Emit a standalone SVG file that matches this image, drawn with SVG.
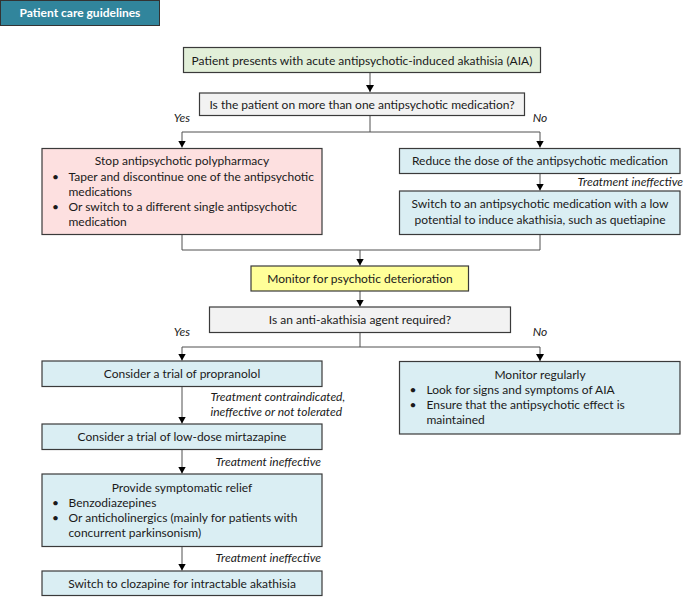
<svg xmlns="http://www.w3.org/2000/svg" width="685" height="597" viewBox="0 0 685 597">
<style>
text{font-family:Lato,"Open Sans","Liberation Sans",sans-serif;font-size:12px;fill:#1a1a1a}
.c{text-anchor:middle}
.i{font-style:italic}
.r{text-anchor:end}
.box{stroke:#3a3a3a;stroke-width:1.2}
.g{fill:#e2efd9}.q{fill:#f2f2f2}.p{fill:#fde0e0}.b{fill:#daeef3}.y{fill:#ffff99}
.ln{fill:none;stroke:#505050;stroke-width:1}
</style>
<defs>
<marker id="ah" markerWidth="8" markerHeight="8" refX="7" refY="4" orient="auto" markerUnits="userSpaceOnUse">
<path d="M0,0 L7,4 L0,8 z" fill="#000"/>
</marker>
</defs>
<g id="header">
<rect x="0.5" y="0.5" width="159" height="25" fill="#31859c" stroke="#333" stroke-width="1"/>
<text x="80" y="17" class="c" style="fill:#fff;font-weight:bold;font-size:12px">Patient care guidelines</text>
</g>
<g id="connectors">
<path class="ln" d="M370,72 V92" marker-end="url(#ah)"/>
<path class="ln" d="M370,115.5 V132 M182,132 H540"/>
<path class="ln" d="M182,132 V147.5" marker-end="url(#ah)"/>
<path class="ln" d="M540,132 V147.5" marker-end="url(#ah)"/>
<path class="ln" d="M540,173.5 V190.5" marker-end="url(#ah)"/>
<path class="ln" d="M182,234.5 V250 H540 V234.5"/>
<path class="ln" d="M360,250 V265.5" marker-end="url(#ah)"/>
<path class="ln" d="M360,291 V306.5" marker-end="url(#ah)"/>
<path class="ln" d="M360,332.5 V347 M182,347 H540"/>
<path class="ln" d="M182,347 V360.5" marker-end="url(#ah)"/>
<path class="ln" d="M540,347 V361" marker-end="url(#ah)"/>
<path class="ln" d="M182,386.5 V423.5" marker-end="url(#ah)"/>
<path class="ln" d="M182,449.5 V473.5" marker-end="url(#ah)"/>
<path class="ln" d="M182,546.5 V570.5" marker-end="url(#ah)"/>
<text x="182" y="122" class="c i">Yes</text>
<text x="540" y="122" class="c i">No</text>
<text x="683" y="186" class="r i">Treatment ineffective</text>
<text x="182" y="336" class="c i">Yes</text>
<text x="540" y="336" class="c i">No</text>
<text x="210.5" y="401" class="i">Treatment contraindicated,</text>
<text x="210.5" y="415.5" class="i">ineffective or not tolerated</text>
<text x="321" y="466" class="r i">Treatment ineffective</text>
<text x="321" y="562" class="r i">Treatment ineffective</text>
</g>
<g id="n1">
<rect class="box g" x="183.5" y="47.5" width="357" height="25"/>
<text x="362" y="64.5" class="c">Patient presents with acute antipsychotic-induced akathisia (AIA)</text>
</g>
<g id="n2">
<rect class="box q" x="199.5" y="93" width="325" height="22.5"/>
<text x="362" y="108.5" class="c">Is the patient on more than one antipsychotic medication?</text>
</g>
<g id="n3">
<rect class="box p" x="42" y="148.5" width="280" height="86"/>
<text x="182" y="165" class="c">Stop antipsychotic polypharmacy</text>
<text x="52" y="180.5">•</text>
<text x="68.5" y="180.5">Taper and discontinue one of the antipsychotic</text>
<text x="68.5" y="195.5">medications</text>
<text x="52" y="210.5">•</text>
<text x="68.5" y="210.5">Or switch to a different single antipsychotic</text>
<text x="68.5" y="226">medication</text>
</g>
<g id="n4">
<rect class="box b" x="399.5" y="148.5" width="280.5" height="25"/>
<text x="540" y="165" class="c">Reduce the dose of the antipsychotic medication</text>
</g>
<g id="n5">
<rect class="box b" x="399.5" y="191" width="280.5" height="43.5"/>
<text x="540" y="208" class="c">Switch to an antipsychotic medication with a low</text>
<text x="540" y="224" class="c">potential to induce akathisia, such as quetiapine</text>
</g>
<g id="n6">
<rect class="box y" x="251" y="266" width="217.5" height="25"/>
<text x="360" y="282.5" class="c">Monitor for psychotic deterioration</text>
</g>
<g id="n7">
<rect class="box q" x="209.5" y="307" width="301" height="25.5"/>
<text x="360" y="324" class="c">Is an anti-akathisia agent required?</text>
</g>
<g id="n8">
<rect class="box b" x="42" y="361" width="280" height="25.5"/>
<text x="182" y="378" class="c">Consider a trial of propranolol</text>
</g>
<g id="n9">
<rect class="box b" x="42" y="424" width="280" height="25.5"/>
<text x="182" y="441" class="c">Consider a trial of low-dose mirtazapine</text>
</g>
<g id="n10">
<rect class="box b" x="42" y="474" width="280" height="72.5"/>
<text x="182" y="491.5" class="c">Provide symptomatic relief</text>
<text x="52" y="506.5">•</text>
<text x="68.5" y="506.5">Benzodiazepines</text>
<text x="52" y="521.5">•</text>
<text x="68.5" y="521.5">Or anticholinergics (mainly for patients with</text>
<text x="68.5" y="537">concurrent parkinsonism)</text>
</g>
<g id="n11">
<rect class="box b" x="42" y="571" width="280" height="24.5"/>
<text x="182" y="588" class="c">Switch to clozapine for intractable akathisia</text>
</g>
<g id="n12">
<rect class="box b" x="399.5" y="361.5" width="280.5" height="72.5"/>
<text x="540" y="379" class="c">Monitor regularly</text>
<text x="409.5" y="394">•</text>
<text x="426.5" y="394">Look for signs and symptoms of AIA</text>
<text x="409.5" y="409">•</text>
<text x="426.5" y="409">Ensure that the antipsychotic effect is</text>
<text x="426.5" y="424">maintained</text>
</g>
</svg>
